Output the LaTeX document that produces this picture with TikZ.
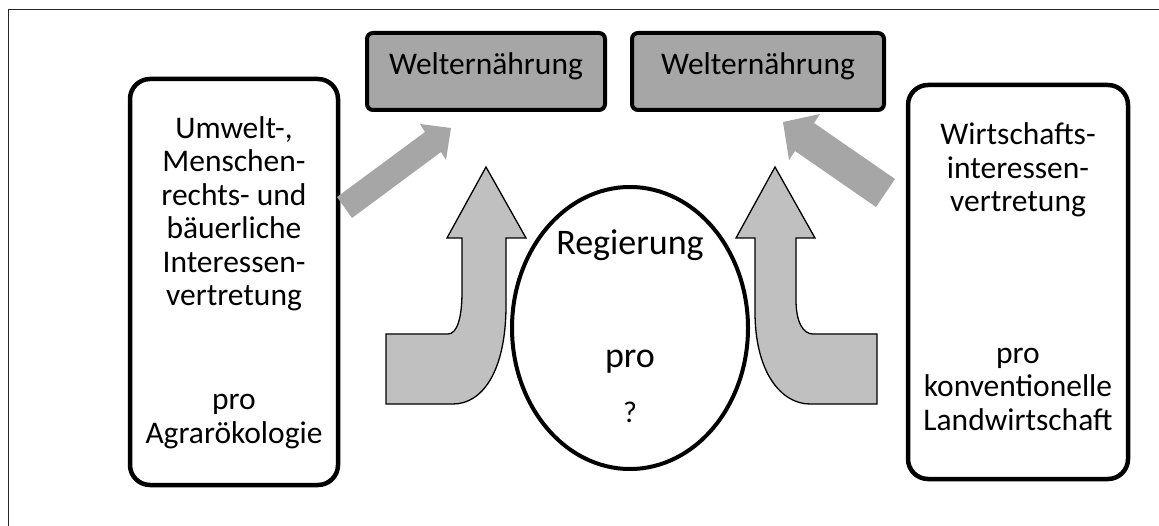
\documentclass[tikz,border=0pt]{standalone}
\usepackage{fontspec}
\setmainfont{Carlito}
\usetikzlibrary{shapes.geometric}
\definecolor{wgray}{HTML}{A6A6A6}
\definecolor{bgray}{HTML}{C0C0C0}
\definecolor{dgray}{HTML}{A6A6A6}
\begin{document}
\begin{tikzpicture}[x=1pt,y=-1pt,
  txt/.style={font=\fontsize{31.5}{33.5}\selectfont, align=center, anchor=base, inner sep=0pt},
  bigtxt/.style={txt, font=\fontsize{36}{40}\selectfont},
  sidebox/.style={draw, line width=4.5pt, rounded corners=20pt, fill=white, inner sep=0pt},
  wbox/.style={draw, line width=4pt, rounded corners=6pt, fill=wgray, inner sep=0pt},
  oval/.style={draw, ellipse, line width=4pt, fill=white, inner sep=0pt},
  bent/.style={draw, line width=1.3pt, fill=bgray, line join=miter},
  diag/.style={fill=dgray},
  frameline/.style={line width=1.3pt, black!85}
]
\useasboundingbox (0,0) rectangle (1159,526);
\fill[white] (0,0) rectangle (1159,526);
\draw[frameline] (8.5,526) -- (8.5,9.5) -- (1159,9.5);

% boxes
\node[sidebox, minimum width=208pt, minimum height=406pt] (L) at (234,282) {};
\node[sidebox, minimum width=220pt, minimum height=394pt] (R) at (1018,282) {};
\node[wbox, minimum width=238pt, minimum height=77pt] (W1) at (486,71.5) {};
\node[wbox, minimum width=252pt, minimum height=77pt] (W2) at (758,71.5) {};
\node[oval, minimum width=236pt, minimum height=282pt] (E) at (630,328) {};

% diagonal block arrows
\fill[diag] (337,197) -- (425,132) -- (420,124) -- (451,128) -- (446,160) -- (441,152) -- (352,218) -- cycle;
\fill[diag] (895,179) -- (814,123) -- (820,114) -- (783,122) -- (789,160) -- (795,151) -- (876,207) -- cycle;

% bent block arrows
\draw[bent] (386,334) -- (448,334) .. controls (457,334) and (462,318) .. (462,292)
  -- (462,238) -- (447,238) -- (486,167) -- (526,238) -- (506,238) -- (506,305)
  .. controls (506,372) and (482,404) .. (453,404) -- (386,404) -- cycle;
\draw[bent] (877,334) -- (813,334) .. controls (803,334) and (796,322) .. (796,300)
  -- (796,238) -- (815,238) -- (775,167) -- (736,238) -- (755,238) -- (755,312)
  .. controls (755,372) and (781,404) .. (810,404) -- (877,404) -- cycle;

% texts (anchor=base is the baseline of the last line)
\node[txt] (Ltop) at (234,306) {Umwelt-,\\Menschen-\\rechts- und\\bäuerliche\\Interessen-\\vertretung};
\node[txt] (Lbot) at (234,443) {pro\\Agrarökologie};
\node[txt] (Rtop) at (1018,212) {Wirtschafts-\\interessen-\\vertretung};
\node[txt] (Rbot) at (1018,430) {pro\\konventionelle\\Landwirtschaft};
\node[txt] (W1t) at (486,75) {Welternährung};
\node[txt] (W2t) at (758,75) {Welternährung};
\node[bigtxt] (Reg) at (630,255) {Regierung};
\node[bigtxt] (pro) at (630,368) {pro};
\node[txt, font=\fontsize{30}{34}\selectfont] (q) at (630,422) {?};
\end{tikzpicture}
\end{document}
